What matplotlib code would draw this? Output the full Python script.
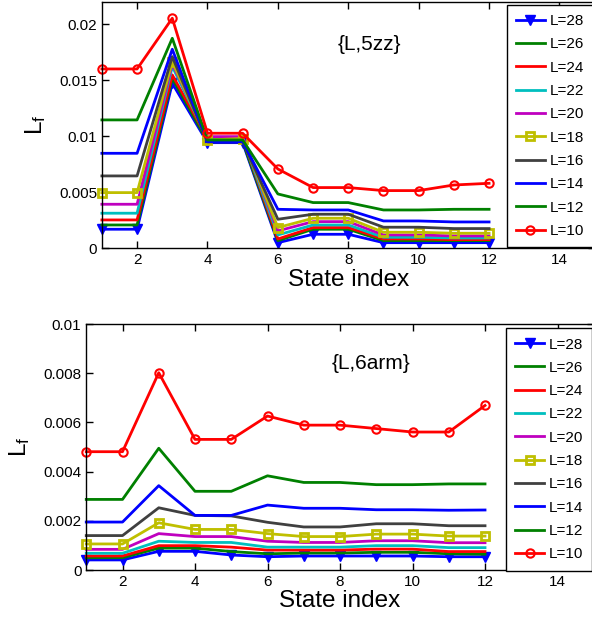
import numpy as np
import matplotlib
matplotlib.use('Agg')
import matplotlib.pyplot as plt

plt.rcParams['font.family'] = ['Liberation Sans', 'DejaVu Sans']
plt.rcParams['mathtext.fontset'] = 'custom'
plt.rcParams['mathtext.rm'] = 'Liberation Sans'
plt.rcParams['mathtext.it'] = 'Liberation Sans'

state = np.arange(1, 13)
sizes = [28, 26, 24, 22, 20, 18, 16, 14, 12, 10]

# {L,5zz}
zz = {
    28: [0.00170, 0.00170, 0.01473, 0.00943, 0.00943, 0.00050, 0.00125, 0.00125, 0.00050, 0.00050, 0.00050, 0.00050],
    26: [0.00208, 0.00208, 0.01518, 0.00955, 0.00955, 0.00068, 0.00170, 0.00170, 0.00068, 0.00068, 0.00068, 0.00068],
    24: [0.00253, 0.00253, 0.01548, 0.00982, 0.00982, 0.00083, 0.00185, 0.00185, 0.00083, 0.00083, 0.00077, 0.00077],
    22: [0.00313, 0.00313, 0.01622, 0.00982, 0.00982, 0.00119, 0.00208, 0.00208, 0.00098, 0.00098, 0.00092, 0.00092],
    20: [0.00393, 0.00393, 0.01646, 0.00997, 0.00997, 0.00155, 0.00238, 0.00238, 0.00119, 0.00119, 0.00110, 0.00110],
    18: [0.00497, 0.00497, 0.01667, 0.00967, 0.00980, 0.00185, 0.00268, 0.00268, 0.00143, 0.00143, 0.00134, 0.00134],
    16: [0.00646, 0.00646, 0.01711, 0.00950, 0.00950, 0.00259, 0.00304, 0.00304, 0.00188, 0.00188, 0.00176, 0.00176],
    14: [0.00848, 0.00848, 0.01777, 0.00952, 0.00952, 0.00348, 0.00342, 0.00342, 0.00244, 0.00244, 0.00235, 0.00235],
    12: [0.01146, 0.01146, 0.01875, 0.00967, 0.00967, 0.00485, 0.00408, 0.00408, 0.00342, 0.00342, 0.00348, 0.00348],
    10: [0.01601, 0.01601, 0.02054, 0.01027, 0.01027, 0.00708, 0.00542, 0.00542, 0.00515, 0.00515, 0.00565, 0.00580],
}

# {L,6arm}
arm = {
    28: [0.00041, 0.00041, 0.00076, 0.00076, 0.00061, 0.00054, 0.00057, 0.00057, 0.00057, 0.00057, 0.00054, 0.00054],
    26: [0.00050, 0.00050, 0.00089, 0.00089, 0.00075, 0.00066, 0.00069, 0.00069, 0.00072, 0.00072, 0.00066, 0.00064],
    24: [0.00057, 0.00057, 0.00099, 0.00099, 0.00093, 0.00081, 0.00081, 0.00081, 0.00085, 0.00085, 0.00075, 0.00075],
    22: [0.00068, 0.00068, 0.00117, 0.00112, 0.00112, 0.00093, 0.00093, 0.00093, 0.00099, 0.00099, 0.00091, 0.00091],
    20: [0.00084, 0.00084, 0.00148, 0.00136, 0.00136, 0.00117, 0.00112, 0.00112, 0.00119, 0.00119, 0.00111, 0.00111],
    18: [0.00106, 0.00106, 0.00192, 0.00165, 0.00165, 0.00148, 0.00136, 0.00136, 0.00146, 0.00146, 0.00138, 0.00138],
    16: [0.00140, 0.00140, 0.00253, 0.00222, 0.00220, 0.00194, 0.00175, 0.00175, 0.00188, 0.00188, 0.00180, 0.00180],
    14: [0.00195, 0.00195, 0.00343, 0.00222, 0.00222, 0.00264, 0.00251, 0.00251, 0.00245, 0.00245, 0.00243, 0.00244],
    12: [0.00287, 0.00287, 0.00495, 0.00320, 0.00320, 0.00383, 0.00356, 0.00356, 0.00347, 0.00347, 0.00350, 0.00350],
    10: [0.00481, 0.00481, 0.00802, 0.00531, 0.00531, 0.00626, 0.00589, 0.00589, 0.00575, 0.00561, 0.00561, 0.00669],
}

colors = {28: (0, 0, 1), 26: (0, 0.5, 0), 24: (1, 0, 0), 22: (0, 0.75, 0.75),
          20: (0.75, 0, 0.75), 18: (0.75, 0.75, 0), 16: (0.25, 0.25, 0.25),
          14: (0, 0, 1), 12: (0, 0.5, 0), 10: (1, 0, 0)}


def style(L):
    c = colors[L]
    if L == 28:
        return dict(marker='v', ms=7, mfc=c, mec=c)
    if L == 18:
        return dict(marker='s', ms=6, mfc='none', mec=c, mew=2)
    if L == 10:
        return dict(marker='o', ms=6, mfc='none', mec=c, mew=1.5)
    return dict(marker='None')


def panel(ax, data, yticks, ylabels, ymax, label, tx, ty):
    for L in sizes:
        ax.plot(state, data[L], color=colors[L], lw=2, label='L=%d' % L,
                clip_on=False, **style(L))
    ax.set_xlim(1, 15)
    ax.set_ylim(0, ymax)
    ax.set_xticks([2, 4, 6, 8, 10, 12, 14])
    ax.set_yticks(yticks)
    ax.set_yticklabels(ylabels)
    ax.tick_params(direction='in', top=True, right=True, labelsize=11, length=5, width=1)
    for s in ax.spines.values():
        s.set_linewidth(1.0)
    ax.set_xlabel('State index', fontsize=17.5, labelpad=1)
    ax.set_ylabel('$\\mathrm{L_f}$', fontsize=17.5, labelpad=8)
    ax.text(tx, ty, label, fontsize=15, ha='center', va='center')
    leg = ax.legend(loc='upper left', bbox_to_anchor=legpos[label], borderaxespad=0,
                    fontsize=11, labelspacing=0.61, handlelength=1.9, handletextpad=0.3,
                    borderpad=0.6, fancybox=False, framealpha=1, numpoints=1)
    leg.get_frame().set_edgecolor('black')
    leg.get_frame().set_linewidth(1.0)


legpos = {'{L,5zz}': (0.8214, 0.9874), '{L,6arm}': (0.827, 0.9825)}

fig = plt.figure(figsize=(5.92, 6.21), dpi=100)

ax1 = fig.add_axes([0.1721, 0.6002, 0.8324, 0.3968])
panel(ax1, zz, [0, 0.005, 0.01, 0.015, 0.02],
      ['0', '0.005', '0.01', '0.015', '0.02'], 0.022, '{L,5zz}', 8.61, 0.01815)

ax2 = fig.add_axes([0.1457, 0.0821, 0.8573, 0.3961])
panel(ax2, arm, [0, 0.002, 0.004, 0.006, 0.008, 0.01],
      ['0', '0.002', '0.004', '0.006', '0.008', '0.01'], 0.01, '{L,6arm}', 8.85, 0.00841)

fig.savefig('out.png', dpi=100)
